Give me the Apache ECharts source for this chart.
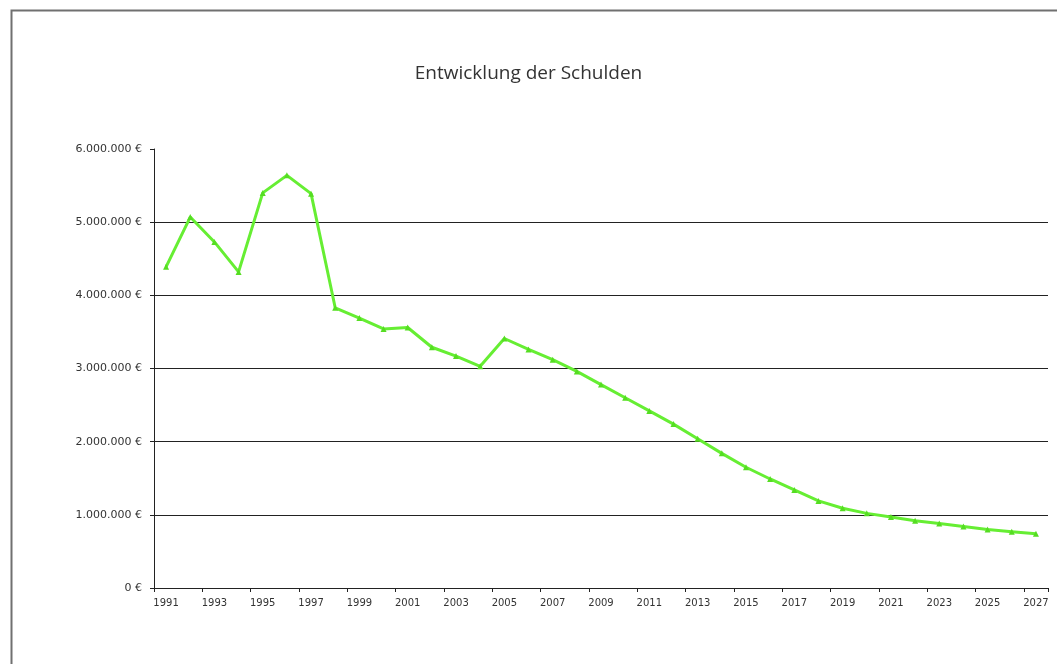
<!DOCTYPE html>
<html>
<head>
<meta charset="utf-8">
<script src="https://cdn.jsdelivr.net/npm/echarts@6/dist/echarts.min.js"></script>
<style>html,body{margin:0;padding:0;background:#fff;}#c{width:1057px;height:664px;}</style>
</head>
<body>
<div id="c"></div>
<script>
const chartTitle = "Entwicklung der Schulden";
const years = [];
for (let y = 1991; y <= 2027; y++) years.push(String(y));
const debt = [
  4390000, 5070000, 4730000, 4320000, 5400000, 5640000, 5390000, 3830000, 3690000, 3540000,
  3560000, 3290000, 3170000, 3030000, 3410000, 3260000, 3120000, 2960000, 2780000, 2600000,
  2420000, 2240000, 2040000, 1840000, 1650000, 1490000, 1340000, 1190000, 1090000, 1020000,
  970000, 920000, 880000, 840000, 800000, 770000, 740000
];
const yTicks = [0, 1000000, 2000000, 3000000, 4000000, 5000000, 6000000];

function fmtEuro(v) {
  return String(Math.round(v)).replace(/\B(?=(\d{3})+(?!\d))/g, '.') + ' €';
}

const chart = echarts.init(document.getElementById('c'), null, {renderer: 'canvas'});
chart.setOption({
  animation: false,
  backgroundColor: '#fff',
  graphic: [{
    type: 'rect', left: 9, top: 8, shape: {width: 1070, height: 680},
    style: {fill: 'none', stroke: '#707070', lineWidth: 2}, silent: true
  }],
  title: {
    text: chartTitle, left: 'center', top: 59,
    textStyle: {fontFamily: 'Open Sans', fontSize: 19, fontWeight: 'normal', color: '#333'}
  },
  grid: {left: 154, right: 9, top: 149, bottom: 76, containLabel: false},
  xAxis: {
    type: 'category', data: years, boundaryGap: true,
    axisLine: {lineStyle: {color: '#222', width: 1}},
    axisTick: {show: true, interval: 1, length: 4, lineStyle: {color: '#222'}},
    axisLabel: {interval: 1, margin: 10, fontFamily: 'DejaVu Sans', fontSize: 10, color: '#333'},
    splitLine: {show: false}
  },
  yAxis: {
    type: 'value', min: yTicks[0], max: yTicks[yTicks.length - 1], interval: 1000000,
    axisLine: {show: true, lineStyle: {color: '#222', width: 1}},
    axisTick: {show: true, length: 4, lineStyle: {color: '#222'}},
    axisLabel: {margin: 12, fontFamily: 'DejaVu Sans', fontSize: 11, color: '#333', formatter: fmtEuro},
    splitLine: {show: true, showMaxLine: false, lineStyle: {color: '#222', width: 1}}
  },
  series: [{
    type: 'line', data: debt,
    symbol: 'triangle', symbolSize: 6,
    lineStyle: {color: '#66ee33', width: 3},
    itemStyle: {color: '#55dd22'}
  }]
});
</script>
</body>
</html>
